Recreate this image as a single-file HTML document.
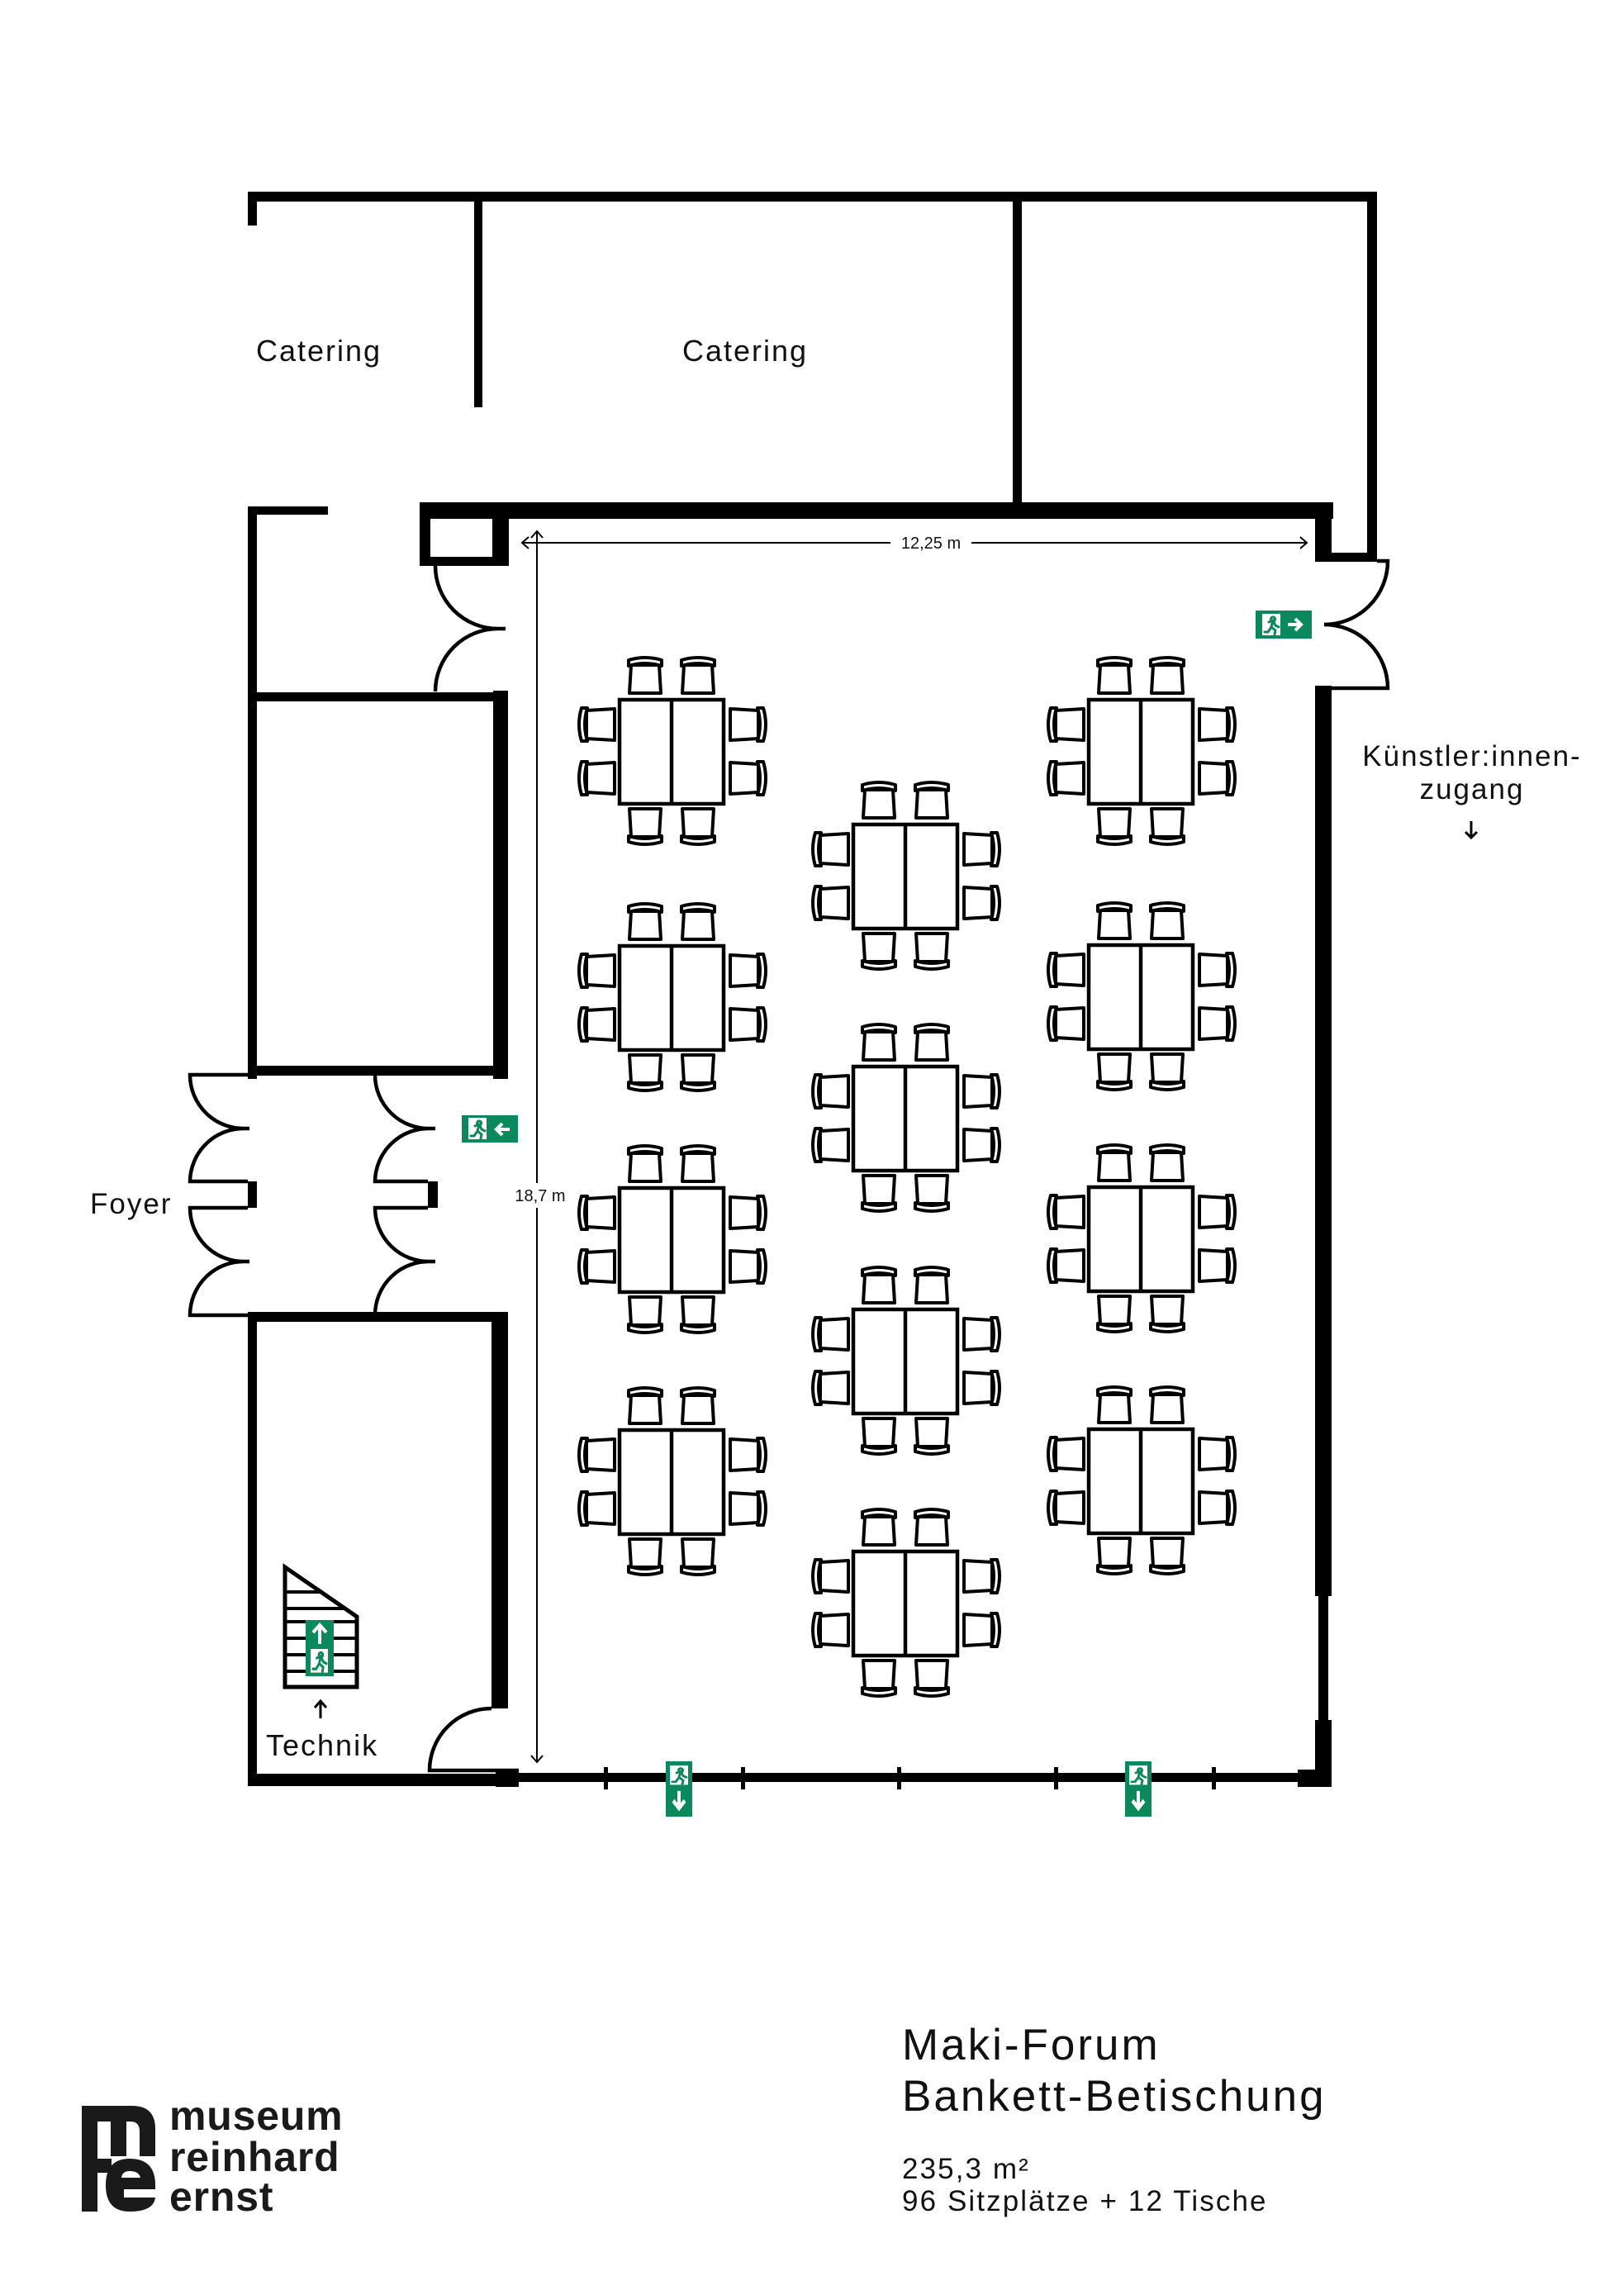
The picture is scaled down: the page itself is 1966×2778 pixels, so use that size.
<!DOCTYPE html>
<html><head><meta charset="utf-8"><style>
html,body{margin:0;padding:0;background:#fff;}
svg{display:block;}
text{font-family:"Liberation Sans",sans-serif;fill:#111;}
</style></head><body>
<svg width="1966" height="2778" viewBox="0 0 1966 2778" xmlns="http://www.w3.org/2000/svg">
<defs>
<g id="ch">
<path d="M-17,-13 L17,-13 L19,21 L-19,21 Z" fill="#fff" stroke="#000" stroke-width="4" stroke-linejoin="round"/>
<path d="M-20,-12 Q0,-18 20,-12 L20,-19 Q0,-25 -20,-19 Z" fill="#fff" stroke="#000" stroke-width="4" stroke-linejoin="round"/>
</g>
<g id="tb">
<use href="#ch" transform="translate(31,-29)"/>
<use href="#ch" transform="translate(95,-29)"/>
<use href="#ch" transform="translate(31,153) rotate(180)"/>
<use href="#ch" transform="translate(95,153) rotate(180)"/>
<use href="#ch" transform="translate(-27,30) rotate(-90)"/>
<use href="#ch" transform="translate(-27,95) rotate(-90)"/>
<use href="#ch" transform="translate(155,30) rotate(90)"/>
<use href="#ch" transform="translate(155,95) rotate(90)"/>
<rect x="0" y="0" width="126" height="126" fill="#fff" stroke="#000" stroke-width="4.5"/>
<line x1="63" y1="0" x2="63" y2="126" stroke="#000" stroke-width="4.5"/>
</g>
<g id="man">
<rect x="0" y="0" width="22" height="26" fill="#fff"/>
<path d="M13,4 a2.5,2.5 0 1 0 0.1,0 M8,10 L13,8 L16,14 L20,16 M13,8 L11,16 L16,20 L15,25 M11,16 L7,22 L3,22" stroke="#0a8a5c" stroke-width="3" fill="none" stroke-linecap="round"/>
</g>
<g id="arrowR">
<path d="M3,0 L19,0 M12,-7 L19,0 L12,7" stroke="#fff" stroke-width="4" fill="none" stroke-linejoin="miter"/>
</g>
</defs>

<g fill="#000">
<rect x="300" y="232" width="1367" height="12"/>
<rect x="300" y="232" width="11" height="41"/>
<rect x="574" y="232" width="10" height="261"/>
<rect x="1226" y="232" width="11" height="376"/>
<rect x="1655" y="232" width="12" height="448"/>
<rect x="1594" y="669" width="73" height="11"/>
<rect x="508" y="608" width="1106" height="20"/>
<rect x="508" y="608" width="13" height="77"/>
<rect x="508" y="674" width="108" height="11"/>
<rect x="596" y="608" width="20" height="77"/>
<rect x="1592" y="608" width="20" height="72"/>
<rect x="1592" y="830" width="20" height="1102"/>
<rect x="1596" y="1930" width="12" height="154"/>
<rect x="1592" y="2082" width="20" height="81"/>
<rect x="1571" y="2142" width="41" height="21"/>
<rect x="615" y="2146" width="980" height="11"/>
<rect x="600" y="2142" width="28" height="21"/>
<rect x="300" y="613" width="97" height="10"/>
<rect x="300" y="613" width="11" height="693"/>
<rect x="300" y="838" width="315" height="11"/>
<rect x="597" y="836" width="18" height="470"/>
<rect x="300" y="1290" width="315" height="12"/>
<rect x="300" y="1430" width="11" height="32"/>
<rect x="518" y="1430" width="12" height="32"/>
<rect x="300" y="1588" width="315" height="12"/>
<rect x="595" y="1588" width="20" height="480"/>
<rect x="300" y="1588" width="11" height="574"/>
<rect x="300" y="2147" width="328" height="15"/>
<rect x="731" y="2139" width="5" height="27"/>
<rect x="897" y="2139" width="5" height="27"/>
<rect x="1086" y="2139" width="5" height="27"/>
<rect x="1276" y="2139" width="5" height="27"/>
<rect x="1467" y="2139" width="5" height="27"/>
</g>

<g fill="none" stroke="#000" stroke-width="4.5">
<path d="M527,685 A76,76 0 0 0 603,761 A76,76 0 0 0 527,837"/>
<path d="M603,761 L612,761"/>
<path d="M1667,679 L1680,679 A77,77 0 0 1 1603,756 A77,77 0 0 1 1680,833 L1592,833"/>
<path d="M300,1301 L230,1301 A65,65 0 0 0 297,1366 A65,65 0 0 0 230,1430 L300,1430"/>
<path d="M300,1462 L230,1462 A65,65 0 0 0 297,1527 A65,65 0 0 0 230,1592 L300,1592"/>
<path d="M297,1366 L302,1366 M297,1527 L302,1527"/>
<path d="M454,1301 A65,65 0 0 0 521,1366 A65,65 0 0 0 454,1430 L518,1430"/>
<path d="M518,1462 L454,1462 A65,65 0 0 0 521,1527 A65,65 0 0 0 454,1592"/>
<path d="M521,1366 L527,1366 M521,1527 L527,1527"/>
<path d="M595,2068 A75,75 0 0 0 520,2143 L628,2143"/>
</g>

<g stroke="#000" stroke-width="2" fill="none">
<line x1="632" y1="657" x2="1078" y2="657"/>
<line x1="1176" y1="657" x2="1582" y2="657"/>
<path d="M640,650 L632,657 L640,664"/>
<path d="M1574,650 L1582,657 L1574,664"/>
<line x1="650" y1="643" x2="650" y2="1432"/>
<line x1="650" y1="1462" x2="650" y2="2133"/>
<path d="M643,651 L650,643 L657,651"/>
<path d="M643,2125 L650,2133 L657,2125"/>
</g>
<text x="1127" y="664" font-size="20" text-anchor="middle">12,25 m</text>
<text x="654" y="1454" font-size="20" text-anchor="middle">18,7 m</text>

<g stroke="#000" stroke-width="5" fill="none">
<path d="M345,1897 L345,2042 L432,2042 L432,1957 Z" fill="#fff"/>
<path d="M345,1927 L388,1927 M345,1947 L417,1947 M345,1963 L432,1963 M345,1983 L432,1983 M345,2003 L432,2003 M345,2023 L432,2023" stroke-width="4"/>
</g>
<rect x="370" y="1961" width="34" height="68" fill="#0a8a5c"/>
<path d="M387,1967 L387,1990 M379,1976 L387,1967 L395,1976" stroke="#fff" stroke-width="4" fill="none"/>
<use href="#man" transform="translate(376,1996) scale(0.95,1.1)"/>
<path d="M388,2080 L388,2060 M381,2067 L388,2059 L395,2067" stroke="#000" stroke-width="3" fill="none"/>

<g>
<rect x="1520" y="739" width="68" height="34" fill="#0a8a5c"/>
<use href="#man" transform="translate(1528,743)"/>
<use href="#arrowR" transform="translate(1556,756)"/>
<rect x="559" y="1350" width="68" height="33" fill="#0a8a5c"/>
<use href="#man" transform="translate(567,1353)"/>
<use href="#arrowR" transform="translate(620,1367) scale(-1,1)"/>
<rect x="806" y="2132" width="32" height="67" fill="#0a8a5c"/>
<use href="#man" transform="translate(811,2137) scale(1,0.9)"/>
<use href="#arrowR" transform="translate(822,2164) rotate(90) scale(1.3,1)"/>
<rect x="1362" y="2132" width="32" height="67" fill="#0a8a5c"/>
<use href="#man" transform="translate(1367,2137) scale(1,0.9)"/>
<use href="#arrowR" transform="translate(1378,2164) rotate(90) scale(1.3,1)"/>
</g>

<use href="#tb" transform="translate(750,847)"/>
<use href="#tb" transform="translate(750,1145)"/>
<use href="#tb" transform="translate(750,1438)"/>
<use href="#tb" transform="translate(750,1731)"/>
<use href="#tb" transform="translate(1033,998)"/>
<use href="#tb" transform="translate(1033,1291)"/>
<use href="#tb" transform="translate(1033,1585)"/>
<use href="#tb" transform="translate(1033,1878)"/>
<use href="#tb" transform="translate(1318,847)"/>
<use href="#tb" transform="translate(1318,1144)"/>
<use href="#tb" transform="translate(1318,1437)"/>
<use href="#tb" transform="translate(1318,1730)"/>

<text x="310" y="437" font-size="36" letter-spacing="2">Catering</text>
<text x="826" y="437" font-size="36" letter-spacing="2">Catering</text>
<text x="109" y="1469" font-size="35" letter-spacing="2">Foyer</text>
<text x="322" y="2125" font-size="36" letter-spacing="2">Technik</text>
<text x="1782" y="927" font-size="35" text-anchor="middle" letter-spacing="2">Künstler:innen-</text>
<text x="1782" y="967" font-size="35" text-anchor="middle" letter-spacing="2">zugang</text>
<path d="M1781,994 L1781,1014 M1774,1007 L1781,1014 L1788,1007" stroke="#000" stroke-width="3" fill="none"/>

<text x="1092" y="2493" font-size="53" letter-spacing="3">Maki-Forum</text>
<text x="1092" y="2555" font-size="53" letter-spacing="3">Bankett-Betischung</text>
<text x="1092" y="2637" font-size="35" letter-spacing="2.1">235,3 m²</text>
<text x="1092" y="2676" font-size="35" letter-spacing="2.1">96 Sitzplätze + 12 Tische</text>

<g fill="#1a1a1a">
<rect x="99" y="2549" width="19" height="128"/>
<path d="M99,2549 L160,2549 Q188,2549 188,2577 L188,2610 L169,2610 L169,2580 Q169,2568 158,2568 L153,2568 L153,2610 L134,2610 L134,2568 L118,2568 Z"/>
<path d="M118,2613 L135,2613 L135,2630 L118,2630 Z"/>
<path d="M157,2613 Q188,2613 188,2645 L188,2650 L150,2650 L150,2660 L188,2660 Q186,2677 157,2677 Q128,2677 128,2645 Q128,2613 157,2613 Z M147,2636 L170,2636 Q168,2628 157,2628 Q148,2628 147,2636 Z" fill-rule="evenodd"/>
</g>
<text x="205" y="2578" font-size="50" font-weight="bold" letter-spacing="0.8" style="fill:#1a1a1a">museum</text>
<text x="205" y="2628" font-size="50" font-weight="bold" letter-spacing="0.8" style="fill:#1a1a1a">reinhard</text>
<text x="205" y="2676" font-size="50" font-weight="bold" letter-spacing="0.8" style="fill:#1a1a1a">ernst</text>
</svg>
</body></html>
